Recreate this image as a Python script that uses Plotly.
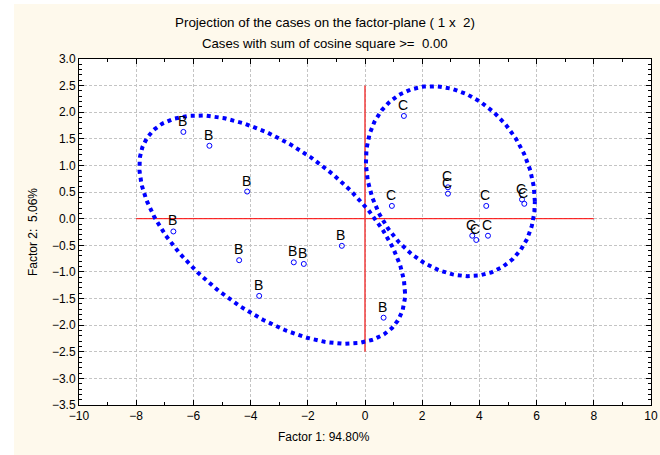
import numpy as np
import plotly.graph_objects as go

# ---- data ----
B_x = [-6.35, -5.44, -4.12, -6.70, -4.40, -3.70, -2.49, -2.14, -0.81, 0.65]
B_y = [1.63, 1.37, 0.51, -0.24, -0.78, -1.45, -0.82, -0.85, -0.51, -1.86]
C_x = [1.36, 2.90, 2.90, 0.94, 4.24, 5.49, 5.57, 3.75, 3.89, 4.30]
C_y = [1.93, 0.59, 0.47, 0.24, 0.24, 0.36, 0.28, -0.32, -0.40, -0.32]

# ellipse parameters: centre and shape matrix (data units)
ELL_B_center = [-3.245, -0.205]
ELL_B_cov = [[21.58, -5.55], [-5.55, 4.60]]
ELL_C_center = [2.985, 0.705]
ELL_C_cov = [[8.73, -1.15], [-1.15, 3.186]]

# reference lines through the origin
HLINE_X = [-8, 8]
VLINE_Y = [-2.5, 2.5]

X_RANGE = [-10, 10]
Y_RANGE = [-3.5, 3.0]

NB = "\u00a0"
TITLE1 = "Projection of the cases on the factor-plane (" + NB + "1 x " + NB + "2)"
TITLE2 = "Cases with sum of cosine square >= " + NB + "0.00"
XTITLE = "Factor 1: 94.80%"
YTITLE = "Factor 2: " + NB + "5.06%"

FONT = "Liberation Sans, Arial, sans-serif"
CREAM = "#FEF9EC"
BLUE = "#0000FF"


def ellipse(center, cov, n=400):
    L = np.linalg.cholesky(np.array(cov))
    t = np.linspace(0, 2 * np.pi, n)
    pts = L @ np.vstack([np.cos(t), np.sin(t)])
    return center[0] + pts[0], center[1] + pts[1]


fig = go.Figure()

# red reference lines
fig.add_trace(go.Scatter(x=HLINE_X, y=[0, 0], mode="lines",
                         line=dict(color="#ff0000", width=1), hoverinfo="skip"))
fig.add_trace(go.Scatter(x=[0, 0], y=VLINE_Y, mode="lines",
                         line=dict(color="rgba(240,60,60,0.75)", width=2), hoverinfo="skip"))

# ellipses
for c, cv in [(ELL_B_center, ELL_B_cov), (ELL_C_center, ELL_C_cov)]:
    ex, ey = ellipse(c, cv)
    fig.add_trace(go.Scatter(x=ex, y=ey, mode="lines",
                             line=dict(color=BLUE, width=4, dash="4px,4px"),
                             hoverinfo="skip"))

# points
label_annots = []
for xs, ys, lab in [(B_x, B_y, "B"), (C_x, C_y, "C")]:
    fig.add_trace(go.Scatter(
        x=xs, y=ys, mode="markers", name=lab,
        marker=dict(symbol="circle-open", size=5, color=BLUE, line=dict(width=1, color=BLUE)),
    ))
    for xv, yv in zip(xs, ys):
        label_annots.append(dict(
            x=xv, y=yv, xref="x", yref="y", text=lab, showarrow=False,
            xanchor="center", yanchor="middle", xshift=-1, yshift=11,
            font=dict(family=FONT, size=14, color="black"),
        ))

axis_common = dict(
    showline=True, linecolor="black", linewidth=1, mirror="ticks",
    ticks="inside", ticklen=5, tickcolor="black", automargin=False,
    showgrid=True, gridcolor="#c4c4c4", griddash="3px,2px", gridwidth=1,
    zeroline=False, tickfont=dict(family=FONT, size=12, color="black"),
)

fig.update_xaxes(range=X_RANGE, dtick=2, tick0=-10,
                 minor=dict(dtick=1, ticks="inside", ticklen=3, tickcolor="black", showgrid=False),
                 **axis_common)
fig.update_yaxes(range=Y_RANGE, dtick=0.5, tick0=-3.5, tickformat=".1f",
                 minor=dict(dtick=0.1, ticks="inside", ticklen=3, tickcolor="black", showgrid=False),
                 **axis_common)

L, R, T, B = 79, 9, 59, 50
W, H = 660, 455
pw, ph = W - L - R, H - T - B


def px_x(p):
    return (p - L) / pw


def px_y(p):
    return (H - B - p) / ph


annots = [
    dict(text=TITLE1, x=px_x(325), y=px_y(22), size=13.4),
    dict(text=TITLE2, x=px_x(325), y=px_y(43), size=13.2),
    dict(text=XTITLE, x=px_x(324), y=px_y(437), size=12),
    dict(text=YTITLE, x=px_x(33), y=px_y(232), size=12, textangle=-90),
]
for a in annots:
    s = a.pop("size")
    a.update(xref="paper", yref="paper", showarrow=False, xanchor="center", yanchor="middle",
             font=dict(family=FONT, size=s, color="black"))

shapes = [
    dict(type="rect", xref="paper", yref="paper", x0=px_x(-5), x1=px_x(14), y0=px_y(460), y1=px_y(-5),
         fillcolor="white", line=dict(width=0), layer="below"),
    dict(type="rect", xref="paper", yref="paper", x0=px_x(-5), x1=px_x(665), y0=px_y(4), y1=px_y(-5),
         fillcolor="white", line=dict(width=0), layer="below"),
]

fig.update_layout(
    width=W, height=H,
    margin=dict(l=L, r=R, t=T, b=B, autoexpand=False),
    paper_bgcolor=CREAM, plot_bgcolor="white",
    showlegend=False, annotations=annots + label_annots, shapes=shapes,
    font=dict(family=FONT, size=12, color="black"),
)

fig.write_html("out.html", config={"displayModeBar": False},
               post_script="document.body.style.margin='0';")
